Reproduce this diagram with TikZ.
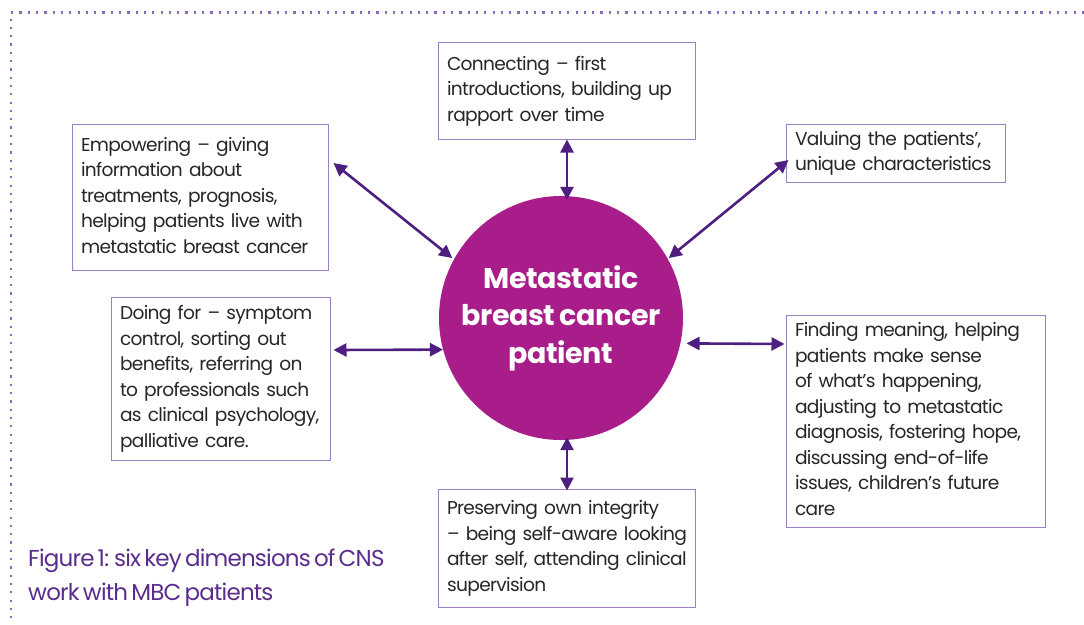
\documentclass[tikz,border=0pt]{standalone}
\usepackage{fontspec}
\setmainfont{Poppins}[LetterSpace=-3.5, WordSpace=0.6]
\newfontfamily\titlefont{Poppins}[LetterSpace=-1.5, WordSpace=0.8]
\usetikzlibrary{arrows.meta}
\definecolor{boxline}{HTML}{9B80C6}
\definecolor{arrowc}{HTML}{4E1F80}
\definecolor{circfill}{HTML}{A81D8A}
\definecolor{capc}{HTML}{5A2D8C}
\definecolor{dotc}{HTML}{8A6BBE}
\definecolor{txt}{HTML}{262626}
\newcommand{\boxlines}[1]{\begin{tabular}{@{}l@{}}#1\end{tabular}}
\tikzset{
  infobox/.style={draw=boxline, line width=1pt, align=left, inner xsep=9pt, inner ysep=0pt,
    font=\fontsize{18.6}{25.5}\selectfont, text=txt},
  link/.style={draw=arrowc, line width=2.6pt, {Triangle[length=13pt,width=13pt]}-{Triangle[length=13pt,width=13pt]}},
  dotline/.style={draw=dotc, line width=2.2pt, dash pattern=on 2.2pt off 6.1pt},
}
\begin{document}
\begin{tikzpicture}[x=1pt,y=-1pt]
\useasboundingbox (0,0) rectangle (1084,624);
\coordinate (tl) at (11,12.5);
\coordinate (tr) at (1084,12.5);
\coordinate (bl) at (11,624);
\draw[dotline] (tr) -- (tl) -- (bl);

\node[circle, fill=circfill, minimum size=244pt, inner sep=0pt, align=center, text=white,
  font=\titlefont\fontsize{28.5}{37.5}\selectfont\bfseries] (circ) at (561,318) {Metastatic\\breast cancer\\patient};

\node[infobox, text width=239pt, minimum height=97pt] (conn) at (566.5,90.5)
  {\boxlines{Connecting – first\\introductions, building up\\rapport over time}};
\node[infobox, text width=238pt, minimum height=146pt] (emp) at (200,197)
  {\boxlines{Empowering – giving\\information about\\treatments, prognosis,\\helping patients live with\\metastatic breast cancer}};
\node[infobox, text width=201pt, minimum height=58pt] (val) at (895.5,153)
  {\boxlines{Valuing the patients’,\\unique characteristics}};
\node[infobox, text width=201pt, minimum height=163pt] (doing) at (220.5,378.5)
  {\boxlines{Doing for – symptom\\control, sorting out\\benefits, referring on\\to professionals such\\as clinical psychology,\\palliative care.}};
\node[infobox, text width=241pt, minimum height=212pt] (find) at (915.5,421)
  {\boxlines{Finding meaning, helping\\patients make sense\\of what’s happening,\\adjusting to metastatic\\diagnosis, fostering hope,\\discussing end-of-life\\issues, children’s future\\care}};
\node[infobox, text width=239pt, minimum height=118pt] (pres) at (566.5,548)
  {\boxlines{Preserving own integrity\\– being self-aware looking\\after self, attending clinical\\supervision}};

\node[anchor=north west, align=left, inner sep=0pt, text=capc, font=\fontsize{23}{33.5}\selectfont] (cap) at (28,549)
  {Figure 1: six key dimensions of CNS\\work with MBC patients};

\path[link] ([xshift=0.5pt]conn.south) -- ([xshift=6pt,yshift=-4pt]circ.north);
\path[link] ([xshift=5pt,yshift=34pt]emp.east) -- ([shift={(-4pt,-3pt)}]circ.149);
\path[link] ([xshift=3pt,yshift=-7pt]val.west) -- ([shift={(3pt,-3pt)}]circ.31);
\path[link] ([xshift=3pt,yshift=28.5pt]doing.east) -- (circ.195);
\path[link] ([xshift=6pt]circ.-12.3) -- ([xshift=-1pt,yshift=77pt]find.west);
\path[link] ([xshift=6pt,yshift=3pt]circ.south) -- ([xshift=0.5pt,yshift=-2pt]pres.north);
\end{tikzpicture}
\end{document}
